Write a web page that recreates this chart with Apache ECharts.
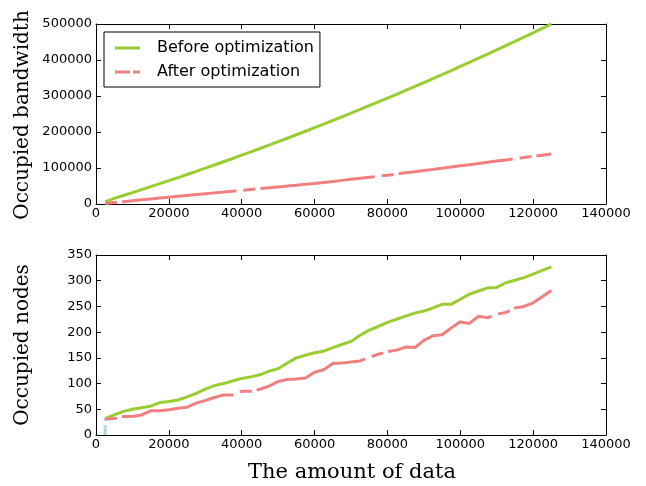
<!DOCTYPE html>
<html><head><meta charset="utf-8">
<script src="https://cdn.jsdelivr.net/npm/echarts@6/dist/echarts.min.js"></script>
<style>html,body{margin:0;padding:0;background:#fff}#c{width:646px;height:486px}</style>
</head><body><div id="c"></div>
<script>
const dataAmount = [2500,5000,7500,10000,12500,15000,17500,20000,22500,25000,
  27500,30000,32500,35000,37500,40000,42500,45000,47500,50000,
  52500,55000,57500,60000,62500,65000,67500,70000,72500,75000,
  77500,80000,82500,85000,87500,90000,92500,95000,97500,100000,
  102500,105000,107500,110000,112500,115000,117500,120000,122500,125000];

const bandwidthBefore = [6000,15700,23700,31700,39900,48100,56500,64900,73400,82000,
  90700,99500,108400,117400,126400,135600,144800,154100,163500,173000,
  182700,192300,202100,212000,221900,231900,242100,252300,262600,273000,
  283500,294100,304800,315600,326400,337400,348300,359500,370700,382000,
  393400,404900,416500,428100,439900,451700,463600,475600,487700,500000];

const bandwidthAfter = [1500,4000,6500,9000,11500,14000,16500,19000,21400,23800,
  26100,28500,30900,33200,35600,38000,40400,42800,45100,47500,
  49900,52200,54600,57000,59900,62800,65600,68500,71400,74300,
  77100,80000,83200,86500,89700,93000,96200,99500,102700,106000,
  109300,112600,115900,119200,122500,125800,129100,132400,135700,139000];

const nodesBefore = [32,39,46,50,53,56,63,65,68,74,
  81,89,96,100,105,110,113,117,124,129,
  140,150,155,160,163,170,176,182,194,204,
  211,219,225,231,237,241,247,254,254,264,
  274,280,286,287,296,301,306,313,320,327];

const nodesAfter = [31,32,36,36,39,47,47,49,52,54,
  62,67,73,78,78,85,85,89,95,104,
  108,109,111,122,127,139,140,142,144,151,
  157,162,165,171,170,184,193,195,208,220,
  217,231,228,235,238,247,250,257,269,281];

const baseX = [2500, 2500];
const baseY = [0, 32];

const xTicks = [0, 20000, 40000, 60000, 80000, 100000, 120000, 140000];

const GREEN = '#9acd32', RED = '#f08080', BLUE = '#add8e6';
const SANS = 'DejaVu Sans';

function pairs(xs, ys) { return xs.map((x, i) => [x, ys[i]]); }
const plain = v => String(v);

const chart = echarts.init(document.getElementById('c'), null, {renderer: 'canvas'});

function xAx(grid, pos, show) {
  return {
    type: 'value', gridIndex: grid, position: pos, min: xTicks[0], max: xTicks[xTicks.length - 1], interval: 20000,
    axisLine: {show: true, onZero: false, lineStyle: {color: '#000', width: 1}},
    axisTick: {show: true, inside: true, length: 5, lineStyle: {color: '#000'}},
    axisLabel: {show: show, margin: 3, color: '#000', fontFamily: SANS, fontSize: 13, formatter: plain},
    splitLine: {show: false}
  };
}
function yAx(grid, pos, show, max, interval) {
  return {
    type: 'value', gridIndex: grid, position: pos, min: 0, max: max, interval: interval,
    axisLine: {show: true, onZero: false, lineStyle: {color: '#000', width: 1}},
    axisTick: {show: true, inside: true, length: 5, lineStyle: {color: '#000'}},
    axisLabel: {show: show, margin: 4, color: '#000', fontFamily: SANS, fontSize: 13, formatter: plain},
    splitLine: {show: false}
  };
}

const redDash = [12, 5, 115, 7];

chart.setOption({
  animation: false,
  backgroundColor: '#fff',
  grid: [
    {left: 96, right: 40, top: 24, height: 180},
    {left: 96, right: 40, top: 255, height: 180}
  ],
  xAxis: [xAx(0, 'bottom', true), xAx(0, 'top', false), xAx(1, 'bottom', true), xAx(1, 'top', false)],
  yAxis: [yAx(0, 'left', true, 500000, 100000), yAx(0, 'right', false, 500000, 100000),
          yAx(1, 'left', true, 350, 50), yAx(1, 'right', false, 350, 50)],
  legend: {
    data: [
      {name: 'Before optimization', icon: 'path://M0,0H25V3H0Z', itemStyle: {color: GREEN}},
      {name: 'After optimization', icon: 'path://M0,0H15V3H0ZM18,0H25V3H18Z', itemStyle: {color: RED}}
    ],
    orient: 'vertical', left: 104, top: 32,
    padding: [8, 6, 7, 11],
    itemWidth: 25, itemHeight: 3, itemGap: 8,
    borderColor: '#000', borderWidth: 1, borderRadius: 0,
    backgroundColor: '#fff',
    textStyle: {fontFamily: SANS, fontSize: 16, color: '#000', padding: [0, 0, 0, 12], lineHeight: 16}
  },
  graphic: [
    {type: 'text', x: 23, y: 115, rotation: Math.PI / 2, style: {text: 'Occupied bandwidth', font: '20px "DejaVu Serif"', fill: '#000', align: 'center', verticalAlign: 'middle'}},
    {type: 'text', x: 23, y: 345, rotation: Math.PI / 2, style: {text: 'Occupied nodes', font: '20px "DejaVu Serif"', fill: '#000', align: 'center', verticalAlign: 'middle'}},
    {type: 'text', x: 352, y: 473, style: {text: 'The amount of data', font: '21px "DejaVu Serif"', fill: '#000', align: 'center', verticalAlign: 'middle'}}
  ],
  series: [
    {name: 'Before optimization', type: 'line', xAxisIndex: 0, yAxisIndex: 0, data: pairs(dataAmount, bandwidthBefore),
     symbol: 'none', lineStyle: {color: GREEN, width: 3}, itemStyle: {color: GREEN}, z: 3},
    {name: 'After optimization', type: 'line', xAxisIndex: 0, yAxisIndex: 0, data: pairs(dataAmount, bandwidthAfter),
     symbol: 'none', lineStyle: {color: RED, width: 3, type: redDash}, itemStyle: {color: RED}, z: 4},
    {name: 'base', type: 'line', xAxisIndex: 2, yAxisIndex: 2, data: pairs(baseX, baseY),
     symbol: 'none', lineStyle: {color: BLUE, width: 3, type: [10, 4]}, z: 2},
    {name: 'Before optimization', type: 'line', xAxisIndex: 2, yAxisIndex: 2, data: pairs(dataAmount, nodesBefore),
     symbol: 'none', lineStyle: {color: GREEN, width: 3}, itemStyle: {color: GREEN}, z: 3},
    {name: 'After optimization', type: 'line', xAxisIndex: 2, yAxisIndex: 2, data: pairs(dataAmount, nodesAfter),
     symbol: 'none', lineStyle: {color: RED, width: 3, type: redDash}, itemStyle: {color: RED}, z: 4}
  ]
});
</script>
</body></html>
